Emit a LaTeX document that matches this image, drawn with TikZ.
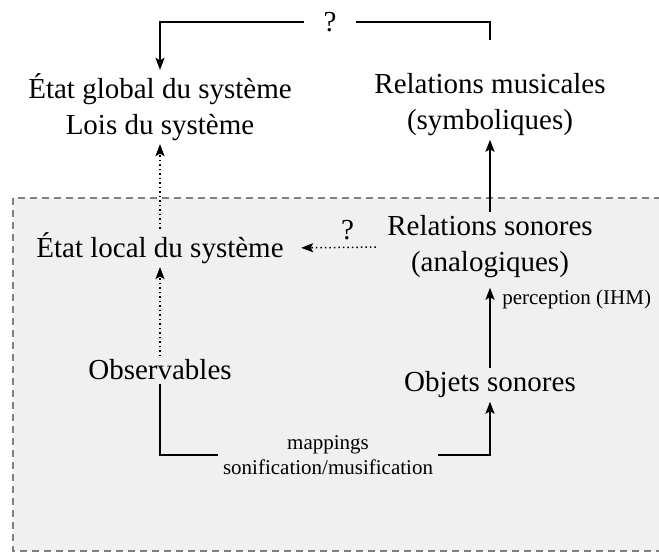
\documentclass[tikz,border=0pt]{standalone}
\usepackage{fontspec}
\setmainfont{Liberation Serif}
\usetikzlibrary{positioning,calc,arrows.meta}

\begin{document}
\begin{tikzpicture}[x=1pt,y=-1pt,
		big/.style={font=\fontsize{29}{36}\selectfont,align=center},
		small/.style={font=\fontsize{21}{25}\selectfont,align=center},
		arr/.style={line width=2pt,-{Stealth[length=12pt,width=9pt,inset=2.5pt]}},
		dotarr/.style={line width=1.5pt,dash pattern=on 1.5pt off 3pt,-{Stealth[length=12pt,width=9pt,inset=2.5pt]}}]
		\clip (0,0) rectangle (659,552);
		\useasboundingbox (0,0) rectangle (659,552);
		% zone grise
		\draw[draw=gray,fill=black!6,line width=1.2pt,dash pattern=on 7pt off 5pt] (13,198) rectangle (680,551);
		
		\node[big] (glob) at (160,107) {État global du système\\Lois du système};
		\node[big] (musi) at (490,105) {Relations musicales\\(symboliques)};
		\node[big] (local) at (160,248) {État local du système};
		\node[big] (sono) at (490,247) {Relations sonores\\(analogiques)};
		\node[big] (obs) at (160,370) {Observables};
		\node[big] (obj) at (490,385) {Objets sonores};
		\node[small,inner sep=5pt] (map) at (328,455) {mappings\\sonification/musification};
		\coordinate (qtop) at (330,22);
		
		\draw[arr,shorten <=30pt] (musi.north) |- (qtop) -| (glob.north);
		\node[big,fill=white,inner xsep=20pt,inner ysep=0pt] (q1) at (qtop) {?};
		\draw[arr] (sono.north) -- (musi.south);
		\draw[arr,shorten >=6pt] (obj.north) -- node[small,right=8pt,pos=0.8] (perc) {perception (IHM)} (sono.south);
		\draw[dotarr] (local.north) -- (glob.south);
		\draw[dotarr] (obs.north) -- (local.south);
		\draw[dotarr,shorten <=8pt,shorten >=14pt] (sono.west) -- node[big,above=4pt,xshift=12pt] (q2) {?} (local.east);
		\draw[line width=2pt] (obs.south) |- (map.west);
		\draw[arr] (map.east) -| (obj.south);
	\end{tikzpicture}
\end{document}
